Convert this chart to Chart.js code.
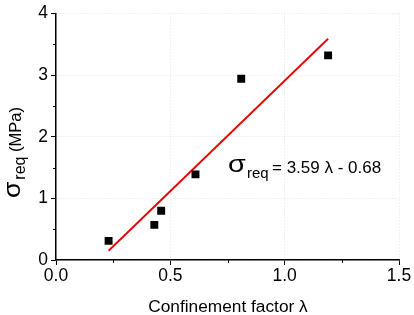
<!DOCTYPE html>
<html>
<head>
<meta charset="utf-8">
<script src="https://cdn.jsdelivr.net/npm/chart.js@4"></script>
<style>
html,body{margin:0;padding:0;background:#fff;}
#c{display:block;}
</style>
</head>
<body>
<canvas id="c" width="414" height="315"></canvas>
<script>
// Data
const lambdaVals = [0.23, 0.43, 0.46, 0.61, 0.81, 1.19];
const sigmaVals  = [0.31, 0.57, 0.80, 1.39, 2.94, 3.32];
const fitLambda  = [0.23, 1.19];
const fitSigma   = [0.15, 3.59];
const xTicks = [0, 0.5, 1.0, 1.5];
const yTicks = [0, 1, 2, 3, 4];
const xMinor = [0.25, 0.75, 1.25];
const yMinor = [0.5, 1.5, 2.5, 3.5];
const xTitle = "Confinement factor λ";
const yTitleMain = "σ", yTitleSub = "req", yTitleUnit = " (MPa)";
const eqText = "= 3.59 λ - 0.68";

const FONT = "'Liberation Sans', Arial, sans-serif";

const scatterData = lambdaVals.map((x, i) => ({x, y: sigmaVals[i]}));
const fitData = fitLambda.map((x, i) => ({x, y: fitSigma[i]}));

const extras = {
  id: 'extras',
  afterDraw(chart) {
    const ctx = chart.ctx;
    const xs = chart.scales.x, ys = chart.scales.y;
    const ca = chart.chartArea;
    ctx.save();
    // minor ticks
    ctx.strokeStyle = '#000';
    ctx.lineWidth = 1;
    ctx.beginPath();
    xMinor.forEach(v => {
      const px = Math.round(xs.getPixelForValue(v)) + 0.5;
      ctx.moveTo(px, ca.bottom);
      ctx.lineTo(px, ca.bottom + 3);
    });
    yMinor.forEach(v => {
      const py = Math.round(ys.getPixelForValue(v)) + 0.5;
      ctx.moveTo(ca.left, py);
      ctx.lineTo(ca.left - 3, py);
    });
    ctx.stroke();

    ctx.fillStyle = '#000';
    ctx.textBaseline = 'alphabetic';
    // x title
    ctx.font = '17.3px ' + FONT;
    ctx.textAlign = 'center';
    ctx.fillText(xTitle, 228, 312);

    // y title (rotated)
    ctx.save();
    ctx.translate(21, 198);
    ctx.rotate(-Math.PI / 2);
    ctx.textAlign = 'left';
    ctx.save();
    ctx.scale(1.15, 1);
    ctx.font = '23px ' + FONT;
    ctx.fillText(yTitleMain, 0, -1);
    let adv = ctx.measureText(yTitleMain).width * 1.15;
    ctx.restore();
    ctx.font = '16px ' + FONT;
    ctx.fillText(yTitleSub, adv + 2, 4);
    adv += 2 + ctx.measureText(yTitleSub).width;
    ctx.font = '16.5px ' + FONT;
    ctx.fillText(yTitleUnit, adv, 0);
    ctx.restore();

    // equation
    ctx.textAlign = 'left';
    ctx.save();
    ctx.translate(228, 172);
    ctx.scale(1.25, 1);
    ctx.font = '23px ' + FONT;
    ctx.fillText(yTitleMain, 0, 0);
    ctx.restore();
    ctx.font = '15px ' + FONT;
    ctx.fillText(yTitleSub, 247, 178);
    ctx.font = '17px ' + FONT;
    ctx.fillText(eqText, 272, 173);
    ctx.restore();
  }
};

new Chart(document.getElementById('c'), {
  type: 'scatter',
  data: {
    datasets: [
      {
        type: 'line',
        data: fitData,
        borderColor: 'rgb(230,0,0)',
        borderWidth: 1.8,
        pointRadius: 0,
        fill: false,
        order: 2
      },
      {
        data: scatterData,
        pointStyle: 'rect',
        pointRadius: 5.6,
        backgroundColor: '#000',
        borderColor: '#000',
        borderWidth: 0,
        order: 1
      }
    ]
  },
  options: {
    responsive: false,
    animation: false,
    events: [],
    layout: { padding: { top: 9, right: 15, left: 0, bottom: 0 } },
    plugins: { legend: { display: false }, tooltip: { enabled: false } },
    scales: {
      x: {
        type: 'linear',
        min: 0, max: 1.5,
        afterBuildTicks: s => { s.ticks = xTicks.map(v => ({value: v})); },
        afterFit: s => { s.height = 55; },
        ticks: {
          color: '#000',
          font: { family: FONT, size: 17.5 },
          padding: 1,
          maxRotation: 0,
          callback: v => Number(v).toFixed(1)
        },
        grid: { color: '#e2e2e2', lineWidth: 1, tickColor: '#000', tickLength: 5, tickWidth: 1 },
        border: { color: '#000', width: 1.5, dash: [1, 2] }
      },
      y: {
        type: 'linear',
        min: 0, max: 4,
        afterBuildTicks: s => { s.ticks = yTicks.map(v => ({value: v})); },
        afterFit: s => { s.width = 56; },
        ticks: {
          color: '#000',
          font: { family: FONT, size: 17.5 },
          padding: 3,
          callback: v => String(v)
        },
        grid: { color: '#e2e2e2', lineWidth: 1, tickColor: '#000', tickLength: 5, tickWidth: 1 },
        border: { color: '#000', width: 1.5, dash: [1, 2] }
      }
    }
  },
  plugins: [extras]
});
</script>
</body>
</html>
